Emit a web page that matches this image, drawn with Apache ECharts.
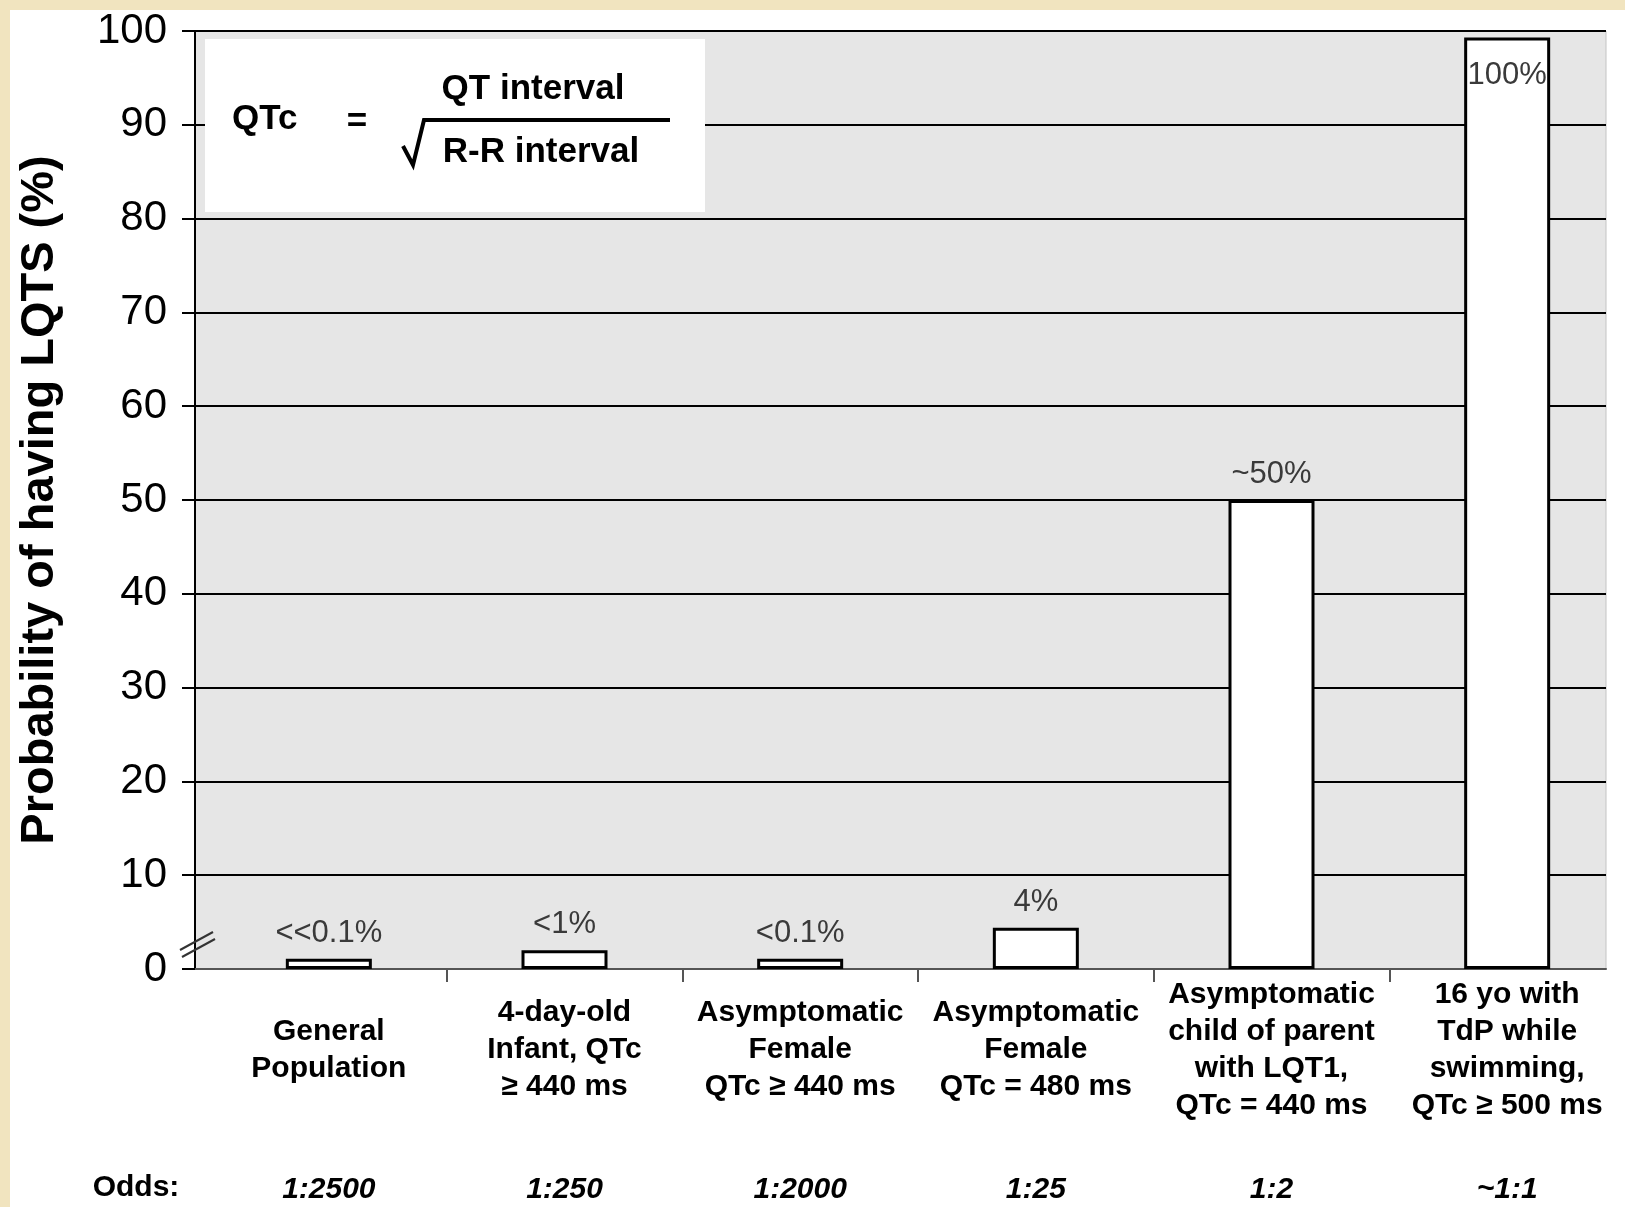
<!DOCTYPE html>
<html>
<head>
<meta charset="utf-8">
<style>
  html, body { margin: 0; padding: 0; background: #ffffff; }
  #chart { width: 1625px; height: 1207px; }
</style>
<script src="https://cdn.jsdelivr.net/npm/echarts@6/dist/echarts.min.js"></script>
</head>
<body>
<div id="chart"></div>
<script>
const categories = [
  'General\nPopulation',
  '4-day-old\nInfant, QTc\n≥ 440 ms',
  'Asymptomatic\nFemale\nQTc ≥ 440 ms',
  'Asymptomatic\nFemale\nQTc = 480 ms',
  'Asymptomatic\nchild of parent\nwith LQT1,\nQTc = 440 ms',
  '16 yo with\nTdP while\nswimming,\nQTc ≥ 500 ms'
];
const probabilities = [1.1, 2.0, 1.1, 4.4, 50, 99.3];
const valueLabels = ['<<0.1%', '<1%', '<0.1%', '4%', '~50%', '100%'];
const odds = ['1:2500', '1:250', '1:2000', '1:25', '1:2', '~1:1'];
const yMin = 0, yMax = 100, yStep = 10;

const FONT = "'Liberation Sans', Arial, sans-serif";
const chart = echarts.init(document.getElementById('chart'));

const barData = probabilities.map((v, i) => ({
  value: v,
  label: {
    formatter: valueLabels[i],
    position: i === probabilities.length - 1 ? 'insideTop' : 'top',
    distance: i === probabilities.length - 1 ? 22 : 10
  }
}));

chart.setOption({
  backgroundColor: '#ffffff',
  animation: false,
  grid: [
    { left: 195, right: 19, top: 31, bottom: 238, show: true,
      backgroundColor: '#e6e6e6', borderColor: '#c4c4c4', borderWidth: 1 },
    { left: 211, right: -4, top: 31, bottom: 238 }
  ],
  xAxis: [
    { gridIndex: 0, type: 'category', data: [''],
      axisLine: { show: true, lineStyle: { color: '#555', width: 2 } },
      axisTick: { show: false }, axisLabel: { show: false }, splitLine: { show: false } },
    { gridIndex: 1, type: 'category', data: categories, position: 'bottom',
      axisLine: { show: false },
      axisTick: { show: true, length: 13, interval: (i) => i > 0,
        lineStyle: { color: '#555', width: 2 } },
      axisLabel: { interval: 0, fontFamily: FONT, fontSize: 30, fontWeight: 'bold',
        color: '#000', lineHeight: 37, verticalAlign: 'middle', margin: 81 } },
    { gridIndex: 1, type: 'category', data: odds, position: 'bottom',
      axisLine: { show: false }, axisTick: { show: false },
      axisLabel: { interval: 0, fontFamily: FONT, fontSize: 30, fontWeight: 'bold',
        fontStyle: 'italic', color: '#000', verticalAlign: 'middle', margin: 221 } }
  ],
  yAxis: [
    { gridIndex: 0, type: 'value', min: yMin, max: yMax, interval: yStep,
      name: 'Probability of having LQTS (%)', nameLocation: 'middle', nameGap: 131,
      nameRotate: 90,
      nameTextStyle: { fontFamily: FONT, fontSize: 47, fontWeight: 'bold', color: '#000' },
      axisLine: { show: true, lineStyle: { color: '#000', width: 2 } },
      axisTick: { show: true, length: 13, lineStyle: { color: '#000', width: 2 } },
      axisLabel: { fontFamily: FONT, fontSize: 42, color: '#000', margin: 28 },
      splitLine: { show: true, lineStyle: { color: '#000', width: 2 } } },
    { gridIndex: 1, type: 'value', min: yMin, max: yMax, interval: yStep, show: false,
      splitLine: { show: false } }
  ],
  series: [{
    type: 'bar', xAxisIndex: 1, yAxisIndex: 1,
    barWidth: 86,
    data: barData,
    itemStyle: { color: '#ffffff', borderColor: '#000', borderWidth: 3 },
    label: { show: true, fontFamily: FONT, fontSize: 31, color: '#3a3a3a' },
    z: 5
  }],
  graphic: [
    { type: 'rect', z: 100, shape: { x: 0, y: 0, width: 1625, height: 10 },
      style: { fill: '#f1e4bf' } },
    { type: 'rect', z: 100, shape: { x: 0, y: 0, width: 10, height: 1207 },
      style: { fill: '#f1e4bf' } },
    { type: 'rect', z: 100, shape: { x: 1608, y: 940, width: 17, height: 60 },
      style: { fill: '#ffffff' } },
    { type: 'rect', z: 100, shape: { x: 205, y: 39, width: 500, height: 173 },
      style: { fill: '#ffffff' } },
    { type: 'text', z: 101, x: 232, y: 119,
      style: { text: 'QTc', font: "bold 35px 'Liberation Sans', Arial", fill: '#000',
        textAlign: 'left', textVerticalAlign: 'middle' } },
    { type: 'text', z: 101, x: 357, y: 122,
      style: { text: '=', font: "bold 35px 'Liberation Sans', Arial", fill: '#000',
        textAlign: 'center', textVerticalAlign: 'middle' } },
    { type: 'text', z: 101, x: 533, y: 89,
      style: { text: 'QT interval', font: "bold 35px 'Liberation Sans', Arial", fill: '#000',
        textAlign: 'center', textVerticalAlign: 'middle' } },
    { type: 'text', z: 101, x: 541, y: 152,
      style: { text: 'R-R interval', font: "bold 35px 'Liberation Sans', Arial", fill: '#000',
        textAlign: 'center', textVerticalAlign: 'middle' } },
    { type: 'polyline', z: 101,
      shape: { points: [[403, 146], [413, 165], [424, 120], [670, 120]] },
      style: { stroke: '#000', lineWidth: 4, fill: null } },
    { type: 'text', z: 101, x: 136, y: 1188,
      style: { text: 'Odds:', font: "bold 30px 'Liberation Sans', Arial", fill: '#000',
        textAlign: 'center', textVerticalAlign: 'middle' } },
    { type: 'line', z: 101, shape: { x1: 180, y1: 950, x2: 213, y2: 932 },
      style: { stroke: '#333', lineWidth: 2 } },
    { type: 'line', z: 101, shape: { x1: 182, y1: 957, x2: 215, y2: 939 },
      style: { stroke: '#333', lineWidth: 2 } }
  ]
});
</script>
</body>
</html>
